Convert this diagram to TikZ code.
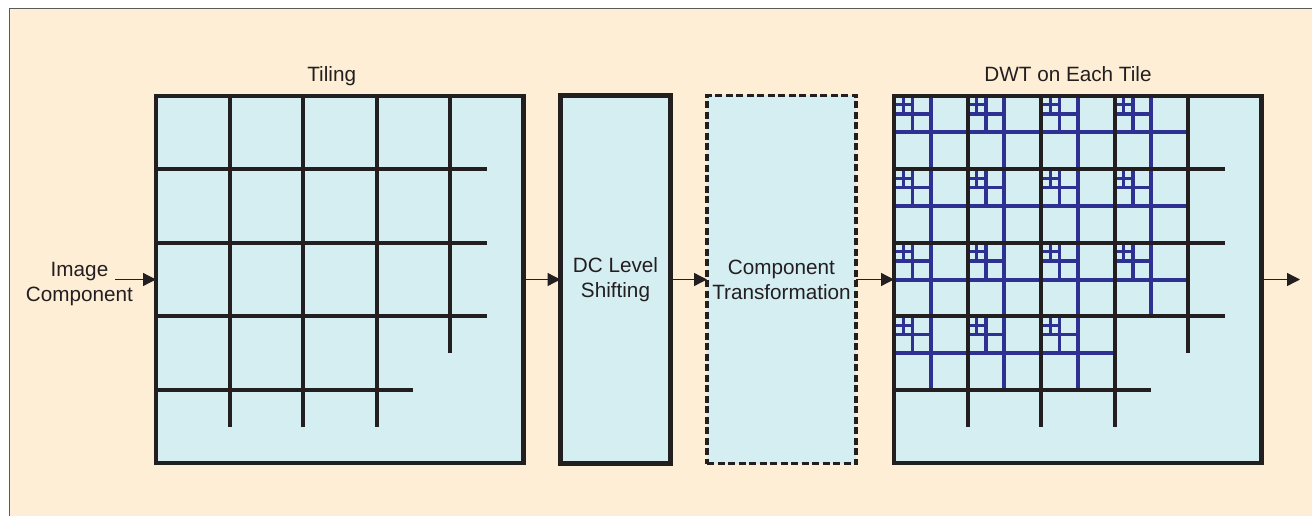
\documentclass[tikz,border=0pt]{standalone}
\usepackage{fontspec}
\setmainfont{Liberation Sans}
\usetikzlibrary{arrows.meta}
\definecolor{cream}{HTML}{FEEED6}
\definecolor{panel}{HTML}{D5EEF2}
\definecolor{ink}{HTML}{231F20}
\definecolor{dwtblue}{HTML}{2E3192}
\definecolor{framegray}{HTML}{5A5A5A}
\tikzset{
  panelbox/.style={rectangle, fill=panel, draw=ink, line width=4.2pt, inner sep=0pt, outer sep=0pt,
    font=\fontsize{20.7}{25}\selectfont, text=ink, align=center},
  dashbox/.style={panelbox, line width=3.4pt, dash pattern=on 7pt off 3.5pt},
  lbl/.style={font=\fontsize{20.7}{25}\selectfont, text=ink, inner sep=0pt, align=center},
  flow/.style={draw=ink, line width=1.3pt, -{Triangle[length=13pt,width=13pt]}},
  tileline/.style={draw=ink, line width=4pt},
  borderline/.style={draw=ink, line width=4.2pt},
  wlone/.style={draw=dwtblue, line width=4pt},
  wltwo/.style={draw=dwtblue, line width=3.5pt},
  wlthree/.style={draw=dwtblue, line width=3pt}
}
\newcommand\drawtilegrid[1]{%
  \begin{scope}[shift={(#1.north west)}]
    \foreach \k in {1,2,3} {
      \draw[tileline] (0,\k*73.5) -- (4.5*73.5,\k*73.5);
      \draw[tileline] (\k*73.5,0) -- (\k*73.5,4.5*73.5);
    }
    \draw[tileline] (0,4*73.5) -- (3.5*73.5,4*73.5);
    \draw[tileline] (4*73.5,0) -- (4*73.5,3.5*73.5);
  \end{scope}}
\begin{document}
\begin{tikzpicture}[x=1pt,y=-1pt]
\useasboundingbox (0,0) rectangle (1312,516);
\clip (0,0) rectangle (1312,516);
\draw[fill=cream, draw=framegray, line width=1pt] (9,9) rectangle (1340,540);

% boxes
\node[panelbox, minimum width=367.5pt, minimum height=367.5pt] (tiling) at (339.75,279.5) {};
\node[panelbox, minimum width=110pt, minimum height=368pt] (dc) at (615.5,279.5) {DC Level\\Shifting};
\node[dashbox, minimum width=149pt, minimum height=368pt] (comp) at (781.5,279.5) {Component\\Transformation};
\node[panelbox, minimum width=367.5pt, minimum height=367.5pt] (dwt) at (1077.75,279.5) {};

% tiling grid
\drawtilegrid{tiling}

% wavelet subbands in each tile
\begin{scope}[shift={(dwt.north west)}]
  \foreach \r/\c in {0/0,0/1,0/2,0/3,1/0,1/1,1/2,1/3,2/0,2/1,2/2,2/3,3/0,3/1,3/2} {
    \begin{scope}[shift={(\c*73.5,\r*73.5)}]
      \draw[wlone] (36.75,0) -- (36.75,73.5);
      \draw[wlone] (0,36.75) -- (73.5,36.75);
      \draw[wltwo] (18.375,0) -- (18.375,36.75);
      \draw[wltwo] (0,18.375) -- (36.75,18.375);
      \draw[wlthree] (9.1875,0) -- (9.1875,18.375);
      \draw[wlthree] (0,9.1875) -- (18.375,9.1875);
    \end{scope}
  }
\end{scope}
\drawtilegrid{dwt}
\draw[borderline] (dwt.north west) rectangle (dwt.south east);

% labels
\node[lbl, anchor=base] (tilingtitle) at (331.7,81.7) {Tiling};
\node[lbl, anchor=base] (dwttitle) at (1068,81.7) {DWT on Each Tile};
\node[lbl] (imgcomp) at (79.5,284) {Image\\Component};
\coordinate (src) at (115,279.5);
\coordinate (sink) at (1300,279.5);

% flow arrows
\draw[flow] (src) -- (tiling.west);
\draw[flow] (tiling.east) -- (dc.west);
\draw[flow] (dc.east) -- (comp.west);
\draw[flow] (comp.east) -- (dwt.west);
\draw[flow] (dwt.east) -- (sink);
\end{tikzpicture}
\end{document}
